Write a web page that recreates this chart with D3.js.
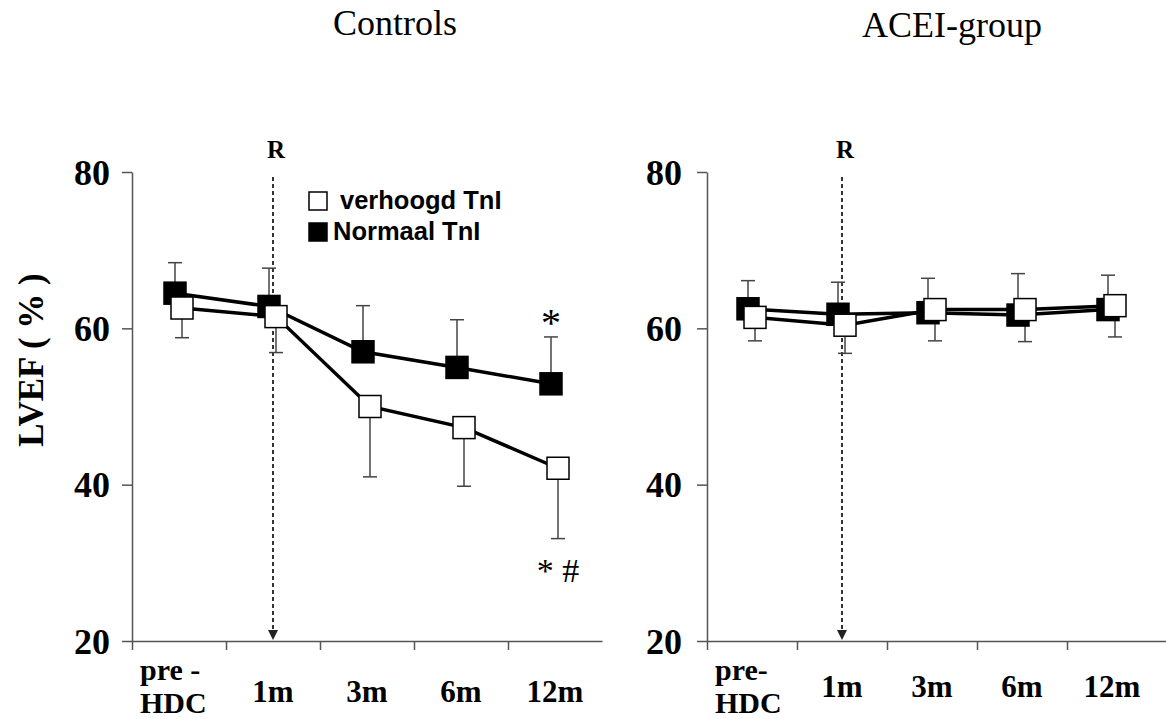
<!doctype html>
<html>
<head>
    <meta charset="UTF-8">
    <title>LVEF</title>
    <script src="https://cdn.jsdelivr.net/npm/d3@7"></script>
    <style>
        body { margin: 0; background: #fff; }
        .serif { font-family: "Liberation Serif", "Times New Roman", serif; }
        .sans { font-family: "Liberation Sans", Arial, sans-serif; }
    </style>
</head>
<body>
    <div id="chart"></div>

    <script>
        var width = 1166,
            height = 719;

        // data
        var catsLeft = [["pre -", "HDC"], ["1m"], ["3m"], ["6m"], ["12m"]];
        var catsRight = [["pre-", "HDC"], ["1m"], ["3m"], ["6m"], ["12m"]];
        var yTicks = [20, 40, 60, 80];

        var ctrlNormaal = [64.5, 62.8, 57.0, 55.0, 52.9];
        var ctrlNormaalSD = [3.9, 4.9, 5.9, 6.1, 6.0];
        var ctrlVerhoogd = [62.6, 61.5, 50.0, 47.3, 42.1];
        var ctrlVerhoogdSD = [3.8, 4.6, 9.0, 7.5, 9.0];

        var aceiNormaal = [62.5, 61.8, 62.0, 61.7, 62.4];
        var aceiNormaalSD = [3.6, 4.1, 4.4, 5.3, 4.4];
        var aceiVerhoogd = [61.4, 60.4, 62.4, 62.4, 62.9];
        var aceiVerhoogdSD = [3.0, 3.6, 4.0, 4.1, 4.0];

        var svg = d3.select("#chart")
            .append("svg")
            .attr("width", width)
            .attr("height", height);

        var y = d3.scaleLinear().domain([20, 80]).range([641, 172]);

        function drawPanel(opt) {
            var g = svg.append("g");
            var bw = opt.bw;
            var nMax = (opt.xEnd - opt.x0) / bw;
            var x = d3.scaleLinear().domain([0, nMax]).range([opt.x0, opt.xEnd]);

            // title
            g.append("text")
                .attr("class", "serif")
                .attr("x", opt.titleX)
                .attr("y", opt.titleY)
                .attr("text-anchor", "middle")
                .style("font-size", "36px")
                .text(opt.title);

            // y axis
            var yAxis = g.append("g")
                .attr("transform", "translate(" + opt.x0 + ",0)")
                .call(d3.axisLeft(y).tickValues(yTicks).tickSize(10).tickSizeOuter(0).tickPadding(opt.yPad));
            yAxis.select(".domain").attr("stroke", "#555").attr("stroke-width", 1.5);
            yAxis.selectAll(".tick line").attr("stroke", "#555").attr("stroke-width", 1.5);
            yAxis.selectAll(".tick text")
                .attr("class", "serif")
                .style("font-size", "36px")
                .style("font-weight", "bold")
                .attr("fill", "#000")
                .attr("dy", "0.34em");

            // x axis
            var xAxis = g.append("g")
                .attr("transform", "translate(0," + y(20) + ")")
                .call(d3.axisBottom(x).tickValues([0, 1, 2, 3, 4]).tickSize(9).tickSizeOuter(0).tickFormat(""));
            xAxis.select(".domain").attr("stroke", "#555").attr("stroke-width", 1.5);
            xAxis.selectAll(".tick line").attr("stroke", "#555").attr("stroke-width", 1.5);

            // x labels
            opt.cats.forEach(function (c, i) {
                if (c.length > 1) {
                    // two separate lines
                    g.append("text")
                        .attr("class", "serif")
                        .attr("x", x(i) + 8).attr("y", 680)
                        .style("font-size", "30px")
                        .style("font-weight", "bold")
                        .text(c[0]);
                    g.append("text")
                        .attr("class", "serif")
                        .attr("x", x(i) + 8).attr("y", 713)
                        .style("font-size", "30px")
                        .style("font-weight", "bold")
                        .text(c[1]);
                } else {
                    g.append("text")
                        .attr("class", "serif")
                        .attr("x", x(i + 0.5)).attr("y", opt.labY)
                        .attr("text-anchor", "middle")
                        .style("font-size", "31px")
                        .style("font-weight", "bold")
                        .text(c[0]);
                }
            });

            // R marker
            var rx = x(1.5);
            g.append("text")
                .attr("class", "serif")
                .attr("x", rx + 3)
                .attr("y", 158)
                .attr("text-anchor", "middle")
                .style("font-size", "25px")
                .style("font-weight", "bold")
                .text("R");
            g.append("line")
                .attr("x1", rx).attr("x2", rx)
                .attr("y1", 177).attr("y2", y(20) - 9)
                .attr("stroke", "#333")
                .attr("stroke-width", 2)
                .attr("stroke-dasharray", "4,3");
            g.append("path")
                .attr("d", "M" + (rx - 5) + "," + (y(20) - 11) + "L" + (rx + 5) + "," + (y(20) - 11) + "L" + rx + "," + (y(20) - 1) + "Z")
                .attr("fill", "#222");

            var series = [
                { vals: opt.normaal, sd: opt.normaalSD, dx: -4, dir: -1, fill: "#000" },
                { vals: opt.verhoogd, sd: opt.verhoogdSD, dx: 3, dir: 1, fill: "#fff" }
            ];

            // error bars
            series.forEach(function (s) {
                s.vals.forEach(function (v, i) {
                    var cx = x(i + 0.5) + s.dx;
                    var yEnd = y(v - s.dir * s.sd[i]);
                    g.append("line")
                        .attr("x1", cx).attr("x2", cx)
                        .attr("y1", y(v)).attr("y2", yEnd)
                        .attr("stroke", "#444").attr("stroke-width", 1.5);
                    g.append("line")
                        .attr("x1", cx - 7).attr("x2", cx + 7)
                        .attr("y1", yEnd).attr("y2", yEnd)
                        .attr("stroke", "#444").attr("stroke-width", 1.5);
                });
            });

            // lines
            var line = d3.line()
                .x(function (d) { return d[0]; })
                .y(function (d) { return d[1]; });
            series.forEach(function (s) {
                var pts = s.vals.map(function (v, i) { return [x(i + 0.5) + s.dx, y(v)]; });
                g.append("path")
                    .attr("d", line(pts))
                    .attr("fill", "none")
                    .attr("stroke", "#000")
                    .attr("stroke-width", 3.5);
            });

            // squares
            var sq = 22;
            series.forEach(function (s) {
                g.selectAll(null)
                    .data(s.vals)
                    .enter()
                    .append("rect")
                    .attr("x", function (d, i) { return x(i + 0.5) + s.dx - sq / 2; })
                    .attr("y", function (d) { return y(d) - sq / 2; })
                    .attr("width", sq)
                    .attr("height", sq)
                    .attr("fill", s.fill)
                    .attr("stroke", "#000")
                    .attr("stroke-width", 1.5);
            });

            return { g: g, x: x };
        }

        var left = drawPanel({
            x0: 132, xEnd: 602, bw: 94, cats: catsLeft, labY: 702, yPad: 12,
            title: "Controls", titleX: 395, titleY: 35,
            normaal: ctrlNormaal, normaalSD: ctrlNormaalSD,
            verhoogd: ctrlVerhoogd, verhoogdSD: ctrlVerhoogdSD
        });

        var right = drawPanel({
            x0: 707, xEnd: 1166, bw: 90, cats: catsRight, labY: 697, yPad: 15,
            title: "ACEI-group", titleX: 952, titleY: 37,
            normaal: aceiNormaal, normaalSD: aceiNormaalSD,
            verhoogd: aceiVerhoogd, verhoogdSD: aceiVerhoogdSD
        });

        // significance marks (controls, 12m)
        var x12 = left.x(4.5);
        left.g.append("text")
            .attr("class", "serif")
            .attr("x", x12 - 4)
            .attr("y", 336)
            .attr("text-anchor", "middle")
            .style("font-size", "40px")
            .text("*");
        left.g.append("text")
            .attr("class", "serif")
            .attr("x", x12 + 3)
            .attr("y", 582)
            .attr("text-anchor", "middle")
            .style("font-size", "34px")
            .text("* #");

        // legend
        var legend = svg.append("g").attr("class", "legend");
        var legItems = ["verhoogd TnI", "Normaal TnI"];
        var legFill = ["#fff", "#000"];
        legItems.forEach(function (name, i) {
            legend.append("rect")
                .attr("x", 309)
                .attr("y", 192 + i * 31)
                .attr("width", 18)
                .attr("height", 18)
                .attr("fill", legFill[i])
                .attr("stroke", "#000")
                .attr("stroke-width", 1.5);
            legend.append("text")
                .attr("class", "sans")
                .attr("x", i === 0 ? 340 : 333)
                .attr("y", 209 + i * 31)
                .style("font-size", "25.5px")
                .style("font-weight", "bold")
                .text(name);
        });

        // y label
        svg.append("text")
            .attr("class", "serif")
            .attr("transform", "translate(43,360) rotate(-90)")
            .attr("text-anchor", "middle")
            .style("font-size", "35px")
            .style("font-weight", "bold")
            .text("LVEF ( % )");
    </script>
</body>
</html>
